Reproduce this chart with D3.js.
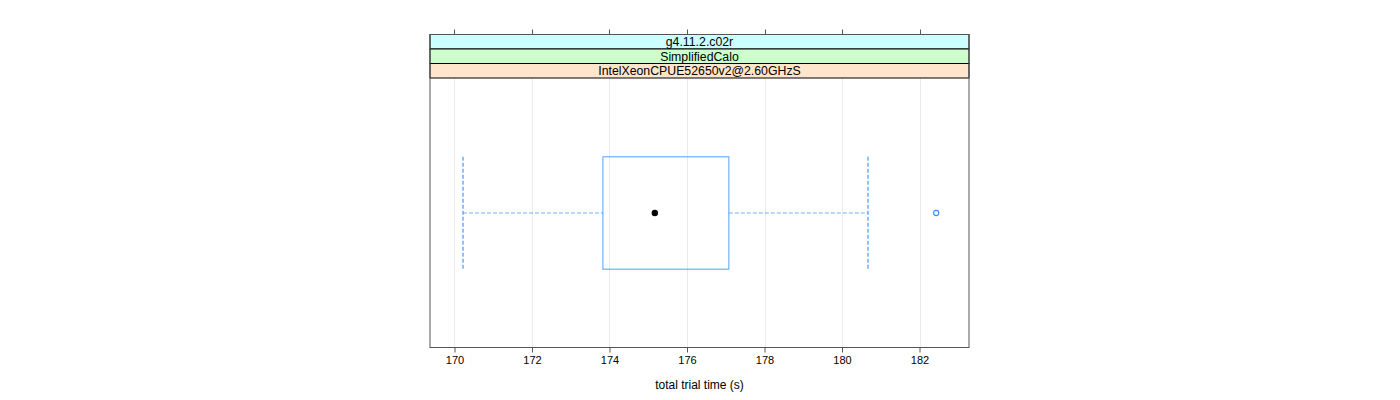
<!DOCTYPE html>
<html>
<head>
<meta charset="utf-8">
<script src="https://cdn.jsdelivr.net/npm/d3@7"></script>
<style>
  body { margin: 0; background: #fff; }
  text { font-family: "Liberation Sans", Arial, sans-serif; }
</style>
</head>
<body>
<div id="chart"></div>
<script>
// strip labels, top to bottom
var stripLabels = ["g4.11.2.c02r", "SimplifiedCalo", "IntelXeonCPUE52650v2@2.60GHzS"];
var stripColors = ["#ccffff", "#ccffcc", "#ffe5cc"];
var xTicks = [170, 172, 174, 176, 178, 180, 182];
// box stats
var whiskerLow = 170.22;
var q1 = 173.83;
var median = 175.17;
var q3 = 177.08;
var whiskerHigh = 180.67;
var outliers = [182.43];

var W = 1400, H = 400;
var left = 430, right = 969;
var stripTop = 34.5, stripH = 14.5;
var panelTop = stripTop + stripH * stripLabels.length;
var panelBottom = 347.5;
var midY = 213, boxHalf = 56.2;

var svg = d3.select("#chart").append("svg")
  .attr("width", W).attr("height", H);

var x = d3.scaleLinear().domain([169.368, 183.277]).range([left, right]);

// grid lines
svg.selectAll("line.grid").data(xTicks).enter().append("line")
  .attr("class", "grid")
  .attr("x1", function(d) { return Math.round(x(d)) + 0.5; })
  .attr("x2", function(d) { return Math.round(x(d)) + 0.5; })
  .attr("y1", panelTop).attr("y2", panelBottom)
  .attr("stroke", "#ebebeb").attr("stroke-width", 1);

var blue = "#3391ff";

// whiskers
svg.append("line")
  .attr("x1", x(whiskerLow)).attr("x2", x(q1))
  .attr("y1", midY).attr("y2", midY)
  .attr("stroke", blue).attr("stroke-width", 1.1)
  .attr("stroke-dasharray", "4,2").attr("opacity", 0.7);
svg.append("line")
  .attr("x1", x(q3)).attr("x2", x(whiskerHigh))
  .attr("y1", midY).attr("y2", midY)
  .attr("stroke", blue).attr("stroke-width", 1.1)
  .attr("stroke-dasharray", "4,2").attr("opacity", 0.7);
[whiskerLow, whiskerHigh].forEach(function(v) {
  svg.append("line")
    .attr("x1", x(v)).attr("x2", x(v))
    .attr("y1", midY - boxHalf).attr("y2", midY + boxHalf)
    .attr("stroke", blue).attr("stroke-width", 1.1)
    .attr("stroke-dasharray", "4,2");
});

// box
svg.append("rect")
  .attr("x", x(q1)).attr("y", midY - boxHalf)
  .attr("width", x(q3) - x(q1))
  .attr("height", boxHalf * 2)
  .attr("fill", "none").attr("stroke", blue).attr("stroke-width", 1)
  .attr("opacity", 0.85);

// median dot
svg.append("circle")
  .attr("cx", x(median)).attr("cy", midY).attr("r", 3.2)
  .attr("fill", "#000");

// outliers
svg.selectAll("circle.out").data(outliers).enter().append("circle")
  .attr("class", "out")
  .attr("cx", function(d) { return x(d); }).attr("cy", midY).attr("r", 2.6)
  .attr("fill", "none").attr("stroke", blue).attr("stroke-width", 1.1);

// strips
var strip = svg.selectAll("g.strip").data(stripLabels).enter().append("g")
  .attr("class", "strip");
strip.append("rect")
  .attr("x", left).attr("y", function(d, i) { return stripTop + i * stripH; })
  .attr("width", right - left).attr("height", stripH)
  .attr("fill", function(d, i) { return stripColors[i]; })
  .attr("stroke", "#000");
strip.append("text")
  .attr("x", (left + right) / 2)
  .attr("y", function(d, i) { return stripTop + i * stripH + stripH / 2; })
  .attr("dy", ".35em")
  .attr("text-anchor", "middle")
  .style("font-size", "12.3px")
  .text(function(d) { return d; });

// panel border
svg.append("rect")
  .attr("x", left).attr("y", stripTop)
  .attr("width", right - left).attr("height", panelBottom - stripTop)
  .attr("fill", "none").attr("stroke", "#555");

// top ticks (no labels)
svg.selectAll("line.ttick").data(xTicks).enter().append("line")
  .attr("class", "ttick")
  .attr("x1", function(d) { return Math.round(x(d)) + 0.5; })
  .attr("x2", function(d) { return Math.round(x(d)) + 0.5; })
  .attr("y1", stripTop - 5).attr("y2", stripTop)
  .attr("stroke", "#555");

// bottom axis
var axis = d3.axisBottom(x).tickValues(xTicks).tickSize(5).tickPadding(4);
var g = svg.append("g").attr("transform", "translate(0," + panelBottom + ")").call(axis);
g.select(".domain").remove();
g.selectAll(".tick line").attr("stroke", "#555");
g.selectAll(".tick text").style("font-size", "11px")
  .style("font-family", "'Liberation Sans', Arial, sans-serif").attr("fill", "#000");

svg.append("text")
  .attr("x", (left + right) / 2).attr("y", 389)
  .attr("text-anchor", "middle")
  .style("font-size", "12px")
  .text("total trial time (s)");
</script>
</body>
</html>
